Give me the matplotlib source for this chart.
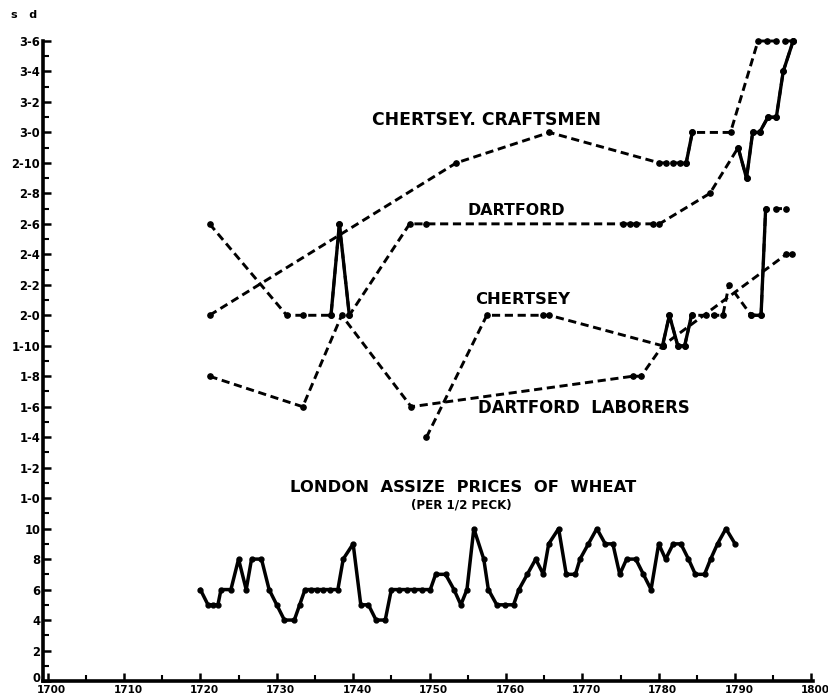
import matplotlib.pyplot as plt
import matplotlib.transforms as mtransforms
import numpy as np

# wages in pence (years on x)
cc_years = [1721.2, 1753.5, 1765.7, 1780.1, 1781.0, 1781.9, 1782.8, 1783.6, 1784.4, 1789.4,
            1793.0, 1794.2, 1795.4, 1796.5, 1797.6]
cc_pence = [24, 34, 36, 34, 34, 34, 34, 34, 36, 36, 42, 42, 42, 42, 42]

df_years = [1721.2, 1731.3, 1733.4, 1737.1, 1738.2, 1739.5, 1747.4, 1749.6, 1775.3, 1776.2,
            1777.0, 1779.2, 1780.1, 1786.7, 1790.4, 1791.5, 1792.3, 1793.2, 1794.3, 1795.4,
            1796.3, 1797.6]
df_pence = [30, 24, 24, 24, 30, 24, 30, 30, 30, 30, 30, 30, 30, 32, 35, 33, 36, 36, 37, 37, 40, 42]

ch_years = [1749.6, 1757.5, 1764.8, 1765.7, 1780.5, 1781.4, 1782.5, 1783.4, 1784.3, 1786.2,
            1787.3, 1788.4, 1789.2, 1792.1, 1793.4, 1794.0, 1795.4, 1796.7]
ch_pence = [16, 24, 24, 24, 22, 24, 22, 22, 24, 24, 24, 24, 26, 24, 24, 31, 31, 31]

dl_years = [1721.2, 1733.4, 1738.5, 1747.6, 1776.6, 1777.7, 1780.5, 1796.7, 1797.4]
dl_pence = [20, 18, 24, 18, 20, 20, 22, 28, 28]

wheat_years = [1720, 1721, 1721.7, 1722.3, 1722.7, 1724, 1725, 1726, 1726.7, 1728, 1729, 1730,
               1731, 1732.3, 1733, 1733.7, 1734.5, 1735.3, 1736.1, 1737, 1738, 1738.7, 1740,
               1741, 1742, 1743, 1744.2, 1745, 1746, 1747, 1748, 1749, 1750.1, 1750.8, 1752.1,
               1753.2, 1754.1, 1754.9, 1755.8, 1757.1, 1757.7, 1758.8, 1759.9, 1761, 1761.7,
               1762.8, 1763.9, 1764.9, 1765.6, 1766.9, 1767.9, 1769.1, 1769.7, 1770.8, 1771.9,
               1773, 1774, 1774.9, 1775.8, 1777, 1778, 1779, 1780, 1780.9, 1781.9, 1782.9,
               1783.9, 1784.8, 1786, 1786.8, 1787.7, 1788.8, 1790]
wheat_pence = [6, 5, 5, 5, 6, 6, 8, 6, 8, 8, 6, 5,
               4, 4, 5, 6, 6, 6, 6, 6, 6, 8, 9,
               5, 5, 4, 4, 6, 6, 6, 6, 6, 6, 7, 7,
               6, 5, 6, 10, 8, 6, 5, 5, 5, 6,
               7, 8, 7, 9, 10, 7, 7, 8, 9, 10,
               9, 9, 7, 8, 8, 7, 6, 9, 8, 9, 9,
               8, 7, 7, 8, 9, 10, 9]

y_labels = ["0", "2", "4", "6", "8", "10", "1-0", "1-2", "1-4", "1-6", "1-8", "1-10",
            "2-0", "2-2", "2-4", "2-6", "2-8", "2-10", "3-0", "3-2", "3-4", "3-6"]
x_labels = ["1700", "1710", "1720", "1730", "1740", "1750", "1760", "1770", "1780", "1790", "1800"]

W, H = 829, 698
fig = plt.figure(figsize=(W / 100, H / 100), dpi=100)
ax = fig.add_axes([43 / W, 17 / H, 770 / W, 640 / H])
ax.set_xlim(1699.4, 1800.2)
ax.set_ylim(0, 42)


def series(years, pence, solid=()):
    # dashed line between points, solid runs drawn on top
    ax.plot(years, pence, color="black", lw=2.1, dashes=(2.8, 1.6), marker="o", ms=3.8,
            clip_on=False)
    for a, b in solid:
        ax.plot(years[a:b + 1], pence[a:b + 1], color="black", lw=2.4, marker="o", ms=3.8,
                clip_on=False)


series(cc_years, cc_pence, solid=[(7, 8)])
series(df_years, df_pence, solid=[(3, 5), (14, 21)])
series(ch_years, ch_pence, solid=[(4, 8), (13, 15)])
series(dl_years, dl_pence)
ax.plot(wheat_years, wheat_pence, color="black", lw=2.5, marker="o", ms=3.5, clip_on=False)

for s in ["top", "right"]:
    ax.spines[s].set_visible(False)
ax.spines["left"].set_linewidth(2.6)
ax.spines["bottom"].set_linewidth(2.6)

ax.set_yticks(np.arange(0, 43, 2))
ax.set_yticks(np.arange(1, 42, 2), minor=True)
ax.set_yticklabels(y_labels, fontsize=8.3, fontweight="bold")
ax.set_xticks(np.arange(1700, 1801, 10))
ax.set_xticks(np.arange(1705, 1800, 10), minor=True)
ax.set_xticklabels(x_labels, fontsize=7.5, fontweight="bold")
ax.tick_params(axis="both", which="major", direction="in", length=6, width=1.8, pad=3)
ax.tick_params(axis="both", which="minor", direction="in", length=4, width=1.5)
ax.tick_params(axis="y", which="major", pad=2)

# year labels sit a little right of their ticks, the zero label a little high
shift_x = mtransforms.ScaledTranslation(4 / 100, 0, fig.dpi_scale_trans)
for t in ax.get_xticklabels():
    t.set_transform(t.get_transform() + shift_x)
shift_up = mtransforms.ScaledTranslation(0, 4 / 100, fig.dpi_scale_trans)
zero = ax.get_yticklabels()[0]
zero.set_transform(zero.get_transform() + shift_up)

fig.text(24 / W, 1 - 15 / H, "s   d", fontsize=8, fontweight="bold", ha="center", va="center")


def label(x, y, s, size=11):
    fig.text(x / W, 1 - y / H, s, fontsize=size, fontweight="bold", ha="left", va="center")


label(372, 120, "CHERTSEY. CRAFTSMEN", size=12.4)
label(468, 210, "DARTFORD", size=11.4)
label(475, 300, "CHERTSEY", size=11.8)
label(478, 408, "DARTFORD  LABORERS", size=11.9)
label(290, 488, "LONDON  ASSIZE  PRICES  OF  WHEAT", size=11.8)
label(411, 505, "(PER 1/2 PECK)", size=8.6)

fig.savefig("out.png", dpi=100)
